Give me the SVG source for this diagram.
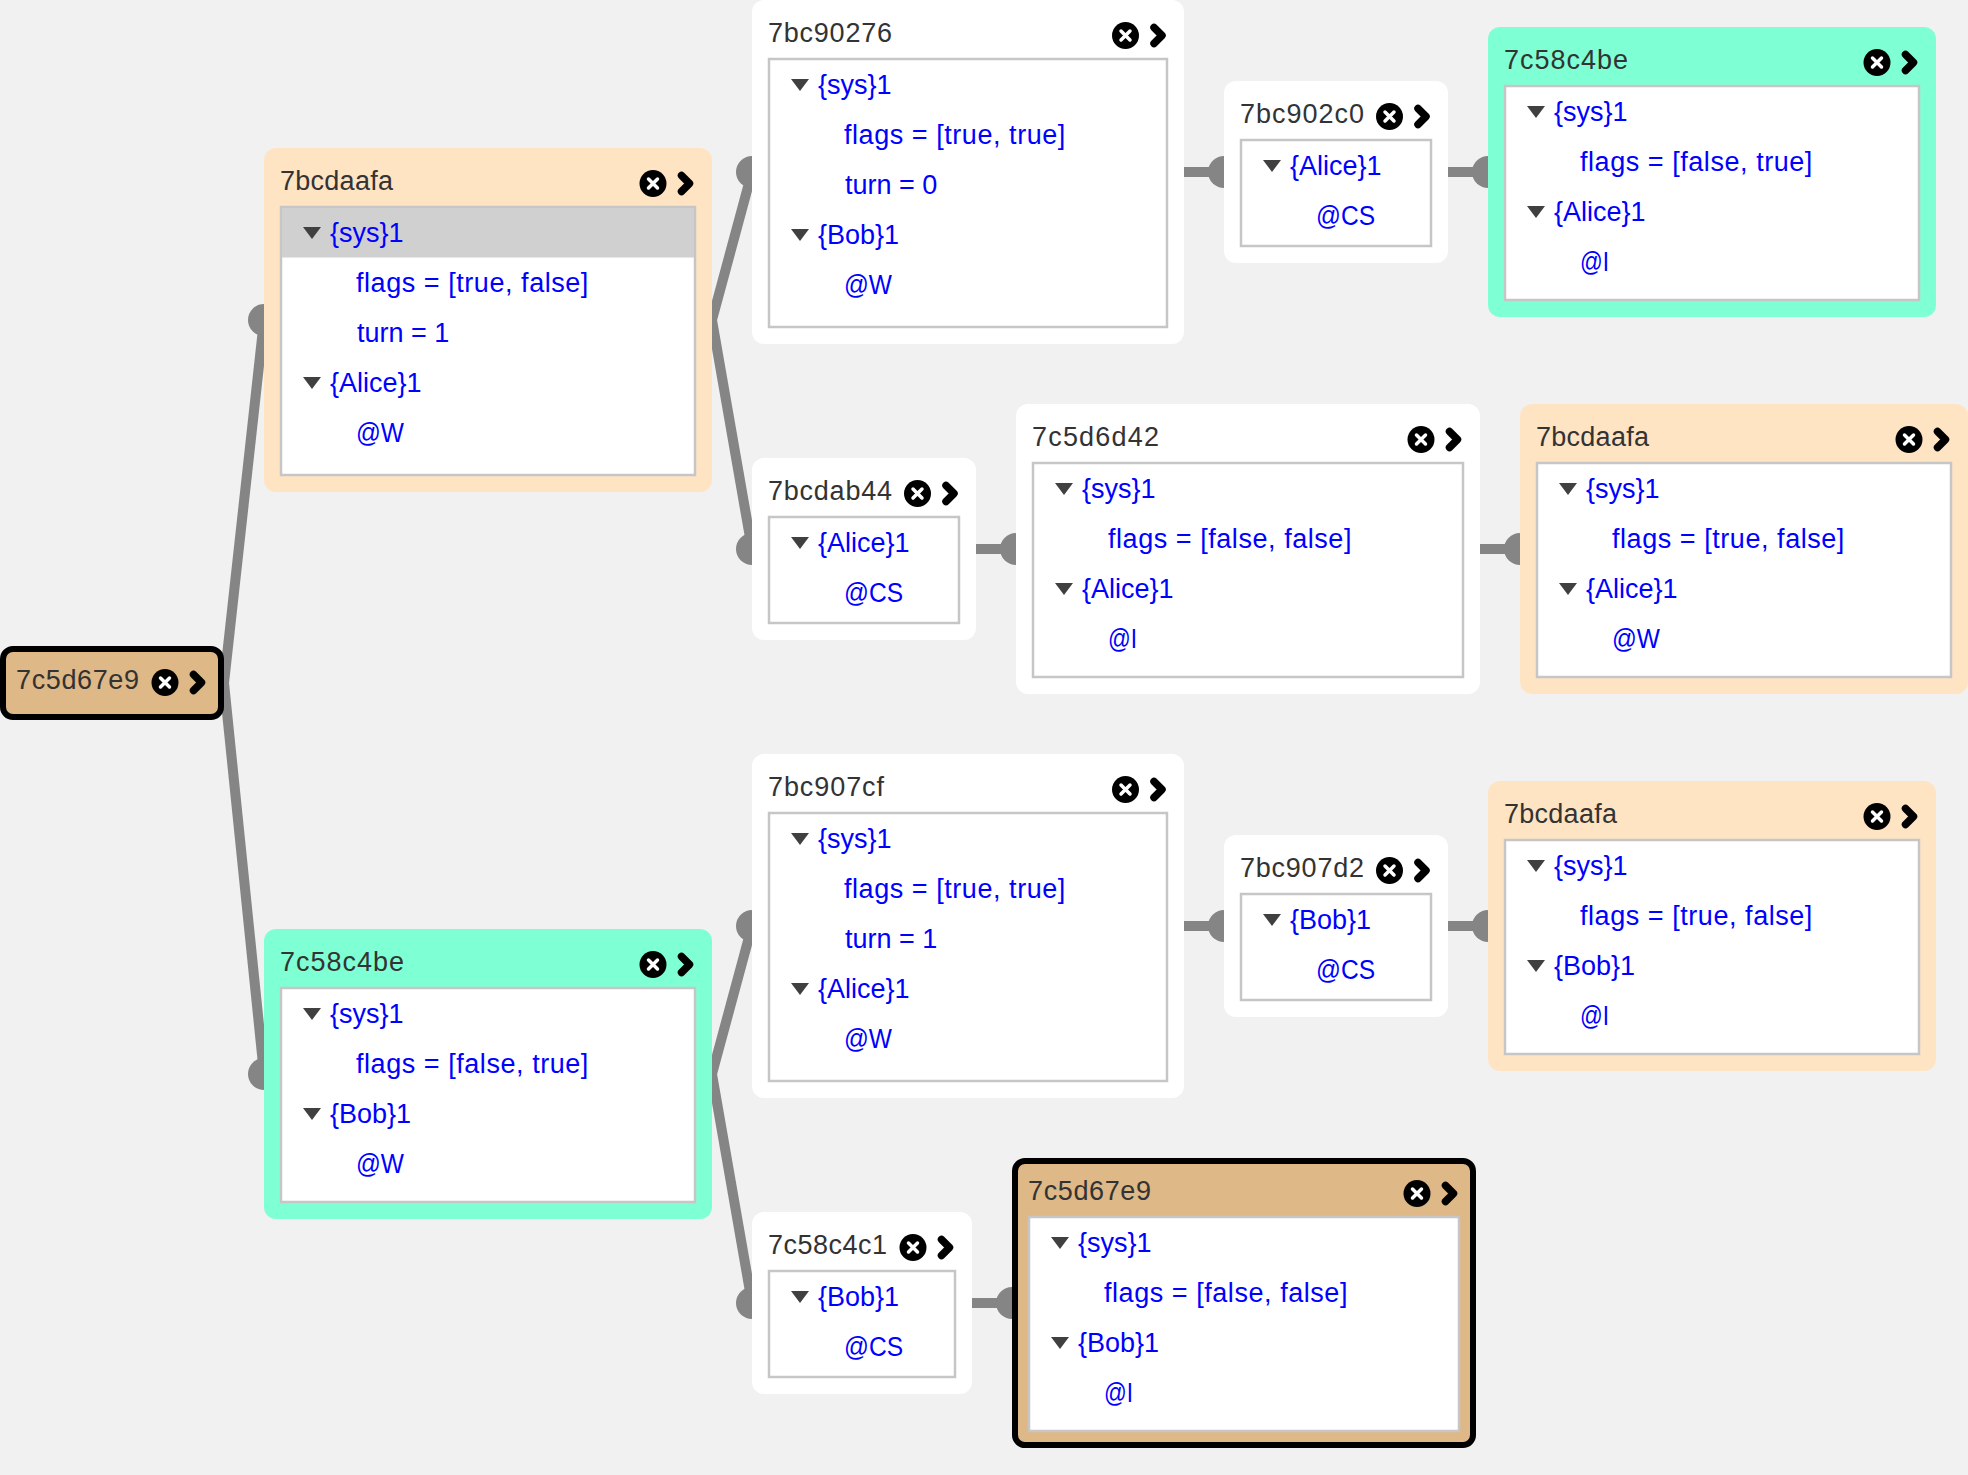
<svg xmlns="http://www.w3.org/2000/svg" width="1968" height="1475" viewBox="0 0 1968 1475">
<style>
text{font-family:"Liberation Sans",Arial,sans-serif;font-size:27px}
.h{fill:#333}
.r{fill:#0000ff}
.f{letter-spacing:.55px}
.w{fill:#fff}
.b{fill:#ffe4c4}
.g{fill:#7fffd4}
.t{fill:#deb887;stroke:#000;stroke-width:6}
.i{fill:#fff;stroke:#c6c6c6;stroke-width:2.5}
.e{fill:none;stroke:#858585;stroke-width:10;marker-end:url(#port)}
</style>
<defs>
<marker id="port" markerUnits="userSpaceOnUse" markerWidth="34" markerHeight="34" viewBox="-17 -17 34 34" refX="0" refY="0"><circle r="16" fill="#858585"/></marker>
<g id="ctl"><circle r="13.500" fill="#000"/><path d="M-4.500-4.500 4.500 4.500M4.500-4.500-4.500 4.500" stroke="#fff" stroke-width="3.500" stroke-linecap="round"/><path d="M28.500-8 36.500 0 28.500 8" fill="none" stroke="#000" stroke-width="7.500" stroke-linecap="round" stroke-linejoin="round"/></g>
<path id="tri" d="M0 0H18L9 12Z" fill="#404040"/>
</defs>
<rect width="1968" height="1475" fill="#f1f1f1"/>
<g id="connectors">
<path class="e" d="M224 683 264 320"/>
<path class="e" d="M224 683 264 1074"/>
<path class="e" d="M712 320 752 172"/>
<path class="e" d="M712 320 752 549"/>
<path class="e" d="M1184 172H1224"/>
<path class="e" d="M1448 172H1488"/>
<path class="e" d="M976 549H1016"/>
<path class="e" d="M1480 549H1520"/>
<path class="e" d="M712 1074 752 926"/>
<path class="e" d="M712 1074 752 1303"/>
<path class="e" d="M1184 926H1224"/>
<path class="e" d="M1448 926H1488"/>
<path class="e" d="M972 1303H1012"/>
</g>
<g id="n-root"><rect class="t" x="3" y="649" width="218" height="68" rx="10"/><text class="h" x="16" y="689" textLength="123">7c5d67e9</text><use href="#ctl" x="165" y="682.500"/></g>

<g id="n1" transform="translate(280 206)"><rect class="b" x="-16" y="-58" width="448" height="344" rx="12"/><text class="h" y="-16" textLength="113">7bcdaafa</text><use href="#ctl" x="373" y="-22.500"/><rect class="i" x="1" y="1" width="414" height="268"/><rect x="2" y="2" width="412" height="49.500" fill="#d0d0d0"/>
<use href="#tri" x="23" y="21"/><text class="r" x="50" y="36">{sys}1</text><text class="r f" x="76" y="86">flags = [true, false]</text><text class="r" x="77" y="136">turn = 1</text><use href="#tri" x="23" y="171"/><text class="r" x="50" y="186">{Alice}1</text><text class="r" x="76" y="236" textLength="48" lengthAdjust="spacingAndGlyphs">@W</text></g>

<g id="n2" transform="translate(280 987)"><rect class="g" x="-16" y="-58" width="448" height="290" rx="12"/><text class="h" y="-16" textLength="124">7c58c4be</text><use href="#ctl" x="373" y="-22.500"/><rect class="i" x="1" y="1" width="414" height="214"/>
<use href="#tri" x="23" y="21"/><text class="r" x="50" y="36">{sys}1</text><text class="r f" x="76" y="86">flags = [false, true]</text><use href="#tri" x="23" y="121"/><text class="r" x="50" y="136">{Bob}1</text><text class="r" x="76" y="186" textLength="48" lengthAdjust="spacingAndGlyphs">@W</text></g>

<g id="n3" transform="translate(768 58)"><rect class="w" x="-16" y="-58" width="432" height="344" rx="12"/><text class="h" y="-16" textLength="124">7bc90276</text><use href="#ctl" x="357.500" y="-22.500"/><rect class="i" x="1" y="1" width="398" height="268"/>
<use href="#tri" x="23" y="21"/><text class="r" x="50" y="36">{sys}1</text><text class="r f" x="76" y="86">flags = [true, true]</text><text class="r" x="77" y="136">turn = 0</text><use href="#tri" x="23" y="171"/><text class="r" x="50" y="186">{Bob}1</text><text class="r" x="76" y="236" textLength="48" lengthAdjust="spacingAndGlyphs">@W</text></g>

<g id="n4" transform="translate(1240 139)"><rect class="w" x="-16" y="-58" width="224" height="182" rx="12"/><text class="h" y="-16" textLength="124">7bc902c0</text><use href="#ctl" x="149.500" y="-22.500"/><rect class="i" x="1" y="1" width="190" height="106"/>
<use href="#tri" x="23" y="21"/><text class="r" x="50" y="36">{Alice}1</text><text class="r" x="76" y="86" textLength="59" lengthAdjust="spacingAndGlyphs">@CS</text></g>

<g id="n5" transform="translate(1504 85)"><rect class="g" x="-16" y="-58" width="448" height="290" rx="12"/><text class="h" y="-16" textLength="124">7c58c4be</text><use href="#ctl" x="373" y="-22.500"/><rect class="i" x="1" y="1" width="414" height="214"/>
<use href="#tri" x="23" y="21"/><text class="r" x="50" y="36">{sys}1</text><text class="r f" x="76" y="86">flags = [false, true]</text><use href="#tri" x="23" y="121"/><text class="r" x="50" y="136">{Alice}1</text><text class="r" x="76" y="186" textLength="29" lengthAdjust="spacingAndGlyphs">@I</text></g>

<g id="n6" transform="translate(768 516)"><rect class="w" x="-16" y="-58" width="224" height="182" rx="12"/><text class="h" y="-16" textLength="124">7bcdab44</text><use href="#ctl" x="149.500" y="-22.500"/><rect class="i" x="1" y="1" width="190" height="106"/>
<use href="#tri" x="23" y="21"/><text class="r" x="50" y="36">{Alice}1</text><text class="r" x="76" y="86" textLength="59" lengthAdjust="spacingAndGlyphs">@CS</text></g>

<g id="n7" transform="translate(1032 462)"><rect class="w" x="-16" y="-58" width="464" height="290" rx="12"/><text class="h" y="-16" textLength="127">7c5d6d42</text><use href="#ctl" x="389" y="-22.500"/><rect class="i" x="1" y="1" width="430" height="214"/>
<use href="#tri" x="23" y="21"/><text class="r" x="50" y="36">{sys}1</text><text class="r f" x="76" y="86">flags = [false, false]</text><use href="#tri" x="23" y="121"/><text class="r" x="50" y="136">{Alice}1</text><text class="r" x="76" y="186" textLength="29" lengthAdjust="spacingAndGlyphs">@I</text></g>

<g id="n8" transform="translate(1536 462)"><rect class="b" x="-16" y="-58" width="448" height="290" rx="12"/><text class="h" y="-16" textLength="113">7bcdaafa</text><use href="#ctl" x="373" y="-22.500"/><rect class="i" x="1" y="1" width="414" height="214"/>
<use href="#tri" x="23" y="21"/><text class="r" x="50" y="36">{sys}1</text><text class="r f" x="76" y="86">flags = [true, false]</text><use href="#tri" x="23" y="121"/><text class="r" x="50" y="136">{Alice}1</text><text class="r" x="76" y="186" textLength="48" lengthAdjust="spacingAndGlyphs">@W</text></g>

<g id="n9" transform="translate(768 812)"><rect class="w" x="-16" y="-58" width="432" height="344" rx="12"/><text class="h" y="-16" textLength="116">7bc907cf</text><use href="#ctl" x="357.500" y="-22.500"/><rect class="i" x="1" y="1" width="398" height="268"/>
<use href="#tri" x="23" y="21"/><text class="r" x="50" y="36">{sys}1</text><text class="r f" x="76" y="86">flags = [true, true]</text><text class="r" x="77" y="136">turn = 1</text><use href="#tri" x="23" y="171"/><text class="r" x="50" y="186">{Alice}1</text><text class="r" x="76" y="236" textLength="48" lengthAdjust="spacingAndGlyphs">@W</text></g>

<g id="n10" transform="translate(1240 893)"><rect class="w" x="-16" y="-58" width="224" height="182" rx="12"/><text class="h" y="-16" textLength="124">7bc907d2</text><use href="#ctl" x="149.500" y="-22.500"/><rect class="i" x="1" y="1" width="190" height="106"/>
<use href="#tri" x="23" y="21"/><text class="r" x="50" y="36">{Bob}1</text><text class="r" x="76" y="86" textLength="59" lengthAdjust="spacingAndGlyphs">@CS</text></g>

<g id="n11" transform="translate(1504 839)"><rect class="b" x="-16" y="-58" width="448" height="290" rx="12"/><text class="h" y="-16" textLength="113">7bcdaafa</text><use href="#ctl" x="373" y="-22.500"/><rect class="i" x="1" y="1" width="414" height="214"/>
<use href="#tri" x="23" y="21"/><text class="r" x="50" y="36">{sys}1</text><text class="r f" x="76" y="86">flags = [true, false]</text><use href="#tri" x="23" y="121"/><text class="r" x="50" y="136">{Bob}1</text><text class="r" x="76" y="186" textLength="29" lengthAdjust="spacingAndGlyphs">@I</text></g>

<g id="n12" transform="translate(768 1270)"><rect class="w" x="-16" y="-58" width="220" height="182" rx="12"/><text class="h" y="-16" textLength="119">7c58c4c1</text><use href="#ctl" x="145" y="-22.500"/><rect class="i" x="1" y="1" width="186" height="106"/>
<use href="#tri" x="23" y="21"/><text class="r" x="50" y="36">{Bob}1</text><text class="r" x="76" y="86" textLength="59" lengthAdjust="spacingAndGlyphs">@CS</text></g>

<g id="n13" transform="translate(1028 1216)"><rect class="t" x="-13" y="-55" width="458" height="284" rx="10"/><text class="h" y="-16" textLength="123">7c5d67e9</text><use href="#ctl" x="389" y="-22.500"/><rect class="i" x="1" y="1" width="430" height="214"/>
<use href="#tri" x="23" y="21"/><text class="r" x="50" y="36">{sys}1</text><text class="r f" x="76" y="86">flags = [false, false]</text><use href="#tri" x="23" y="121"/><text class="r" x="50" y="136">{Bob}1</text><text class="r" x="76" y="186" textLength="29" lengthAdjust="spacingAndGlyphs">@I</text></g>
</svg>
